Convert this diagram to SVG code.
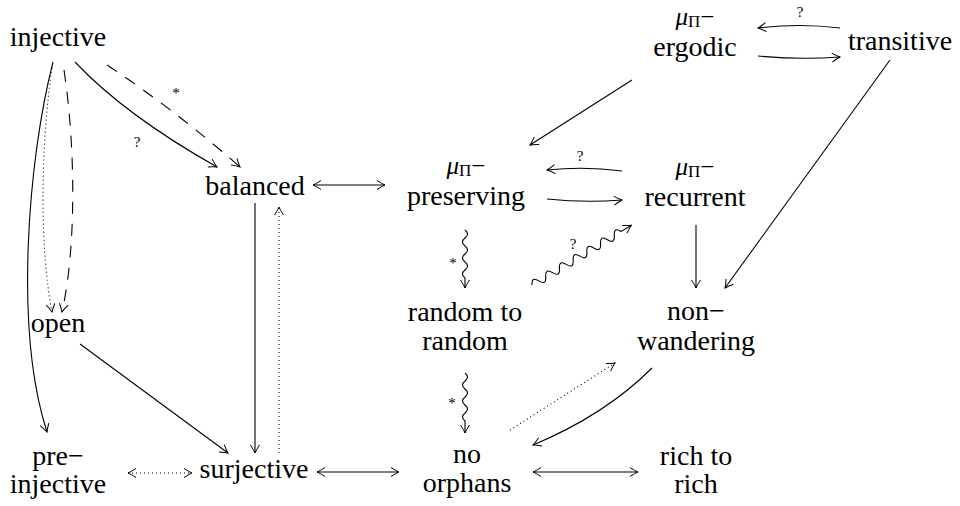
<svg xmlns="http://www.w3.org/2000/svg" width="960" height="506" viewBox="0 0 960 506">
<defs>
<marker id="a" viewBox="-9 -5 10 10" refX="0" refY="0" markerWidth="10" markerHeight="10" markerUnits="userSpaceOnUse" orient="auto-start-reverse">
<path d="M-8,-4.5 Q-3,-1.2 0,0 Q-3,1.2 -8,4.5" fill="none" stroke="#000" stroke-width="1"/>
</marker>
</defs>
<style>
text{font-family:"Liberation Serif","DejaVu Serif",serif;font-size:28px;fill:#000;text-anchor:middle}
.lb{font-size:15px}
.m{font-size:25px}
.mu{font-style:italic}
.sub{font-size:17px}
.e{fill:none;stroke:#000;stroke-width:1.1}
.arr{marker-end:url(#a)}
.bi{marker-start:url(#a);marker-end:url(#a)}
.dot{stroke-dasharray:1 3}
.dash{stroke-dasharray:12 10}
</style>
<rect width="960" height="506" fill="#fff"/>
<g id="connectors">
<path class="e arr" d="M53,62 C28,160 14,330 47,432"/>
<path class="e arr dot" d="M52,68 C40,150 40,250 52,312"/>
<path class="e arr dash" d="M64,70 C76,150 76,250 62,312"/>
<path class="e arr" d="M75,62 Q125,115 217,167"/>
<path class="e arr dash" d="M107,65 Q175,110 240,167"/>
<path class="e bi" d="M313,185 L385,185"/>
<path class="e arr" d="M255,203 L255,453"/>
<path class="e arr dot" d="M279,453 L279,207"/>
<path class="e arr" d="M80,344 L228,453"/>
<path class="e bi dot" d="M128,473 L192,473"/>
<path class="e bi" d="M317,472 L399,472"/>
<path class="e bi" d="M533,472 L638,472"/>
<path class="e arr" d="M632,80 L530,145"/>
<path class="e arr" d="M622,171 Q585,166 547,170"/>
<path class="e arr" d="M547,199 Q585,203 622,200"/>
<path class="e arr" d="M840,28 Q800,23 758,28"/>
<path class="e arr" d="M758,56 Q800,60 840,57"/>
<path class="e arr" d="M890,60 L725,288"/>
<path class="e arr" d="M696,225 L696,288"/>
<path class="e arr" d="M465,230 q5,4 0,8 t0,8 t0,8 t0,8 t0,8 t0,8 l0,10"/>
<path class="e arr" d="M465,373 q5,4 0,8 t0,8 t0,8 t0,8 t0,8 t0,8 l0,12"/>
<g transform="translate(532,285) rotate(-31)">
<path class="e arr" d="M0,0 q4,-8 8,0 t8,0 t8,0 t8,0 t8,0 t8,0 t8,0 t8,0 t8,0 t8,0 t8,0 t8,0 t8,0 l12,0"/>
</g>
<path class="e arr dot" d="M510,430 L615,363"/>
<path class="e arr" d="M652,368 Q605,415 533,445"/>
<text class="lb" x="137" y="147">?</text>
<text class="lb" x="176" y="98">*</text>
<text class="lb" x="580" y="161">?</text>
<text class="lb" x="800" y="17">?</text>
<text class="lb" x="453" y="268">*</text>
<text class="lb" x="573" y="249">?</text>
<text class="lb" x="452" y="408">*</text>
</g>
<g id="injective"><text x="58" y="46">injective</text></g>
<g id="balanced"><text x="255" y="195">balanced</text></g>
<g id="open"><text x="58" y="332">open</text></g>
<g id="pre-injective"><text x="58" y="465">pre−</text><text x="58" y="493">injective</text></g>
<g id="surjective"><text x="254" y="478">surjective</text></g>
<g id="preserving"><text class="m" x="466" y="174"><tspan class="mu">μ</tspan><tspan class="sub" dy="2">Π</tspan><tspan dy="-2">−</tspan></text><text x="466" y="205">preserving</text></g>
<g id="recurrent"><text class="m" x="695" y="175"><tspan class="mu">μ</tspan><tspan class="sub" dy="2">Π</tspan><tspan dy="-2">−</tspan></text><text x="695" y="206">recurrent</text></g>
<g id="ergodic"><text class="m" x="695" y="25"><tspan class="mu">μ</tspan><tspan class="sub" dy="2">Π</tspan><tspan dy="-2">−</tspan></text><text x="695" y="56">ergodic</text></g>
<g id="transitive"><text x="900" y="50">transitive</text></g>
<g id="random"><text x="465" y="321">random to</text><text x="465" y="350">random</text></g>
<g id="nonwandering"><text x="696" y="320">non−</text><text x="696" y="350">wandering</text></g>
<g id="noorphans"><text x="467" y="463">no</text><text x="467" y="492">orphans</text></g>
<g id="richtorich"><text x="696" y="465">rich to</text><text x="696" y="493">rich</text></g>
</svg>
